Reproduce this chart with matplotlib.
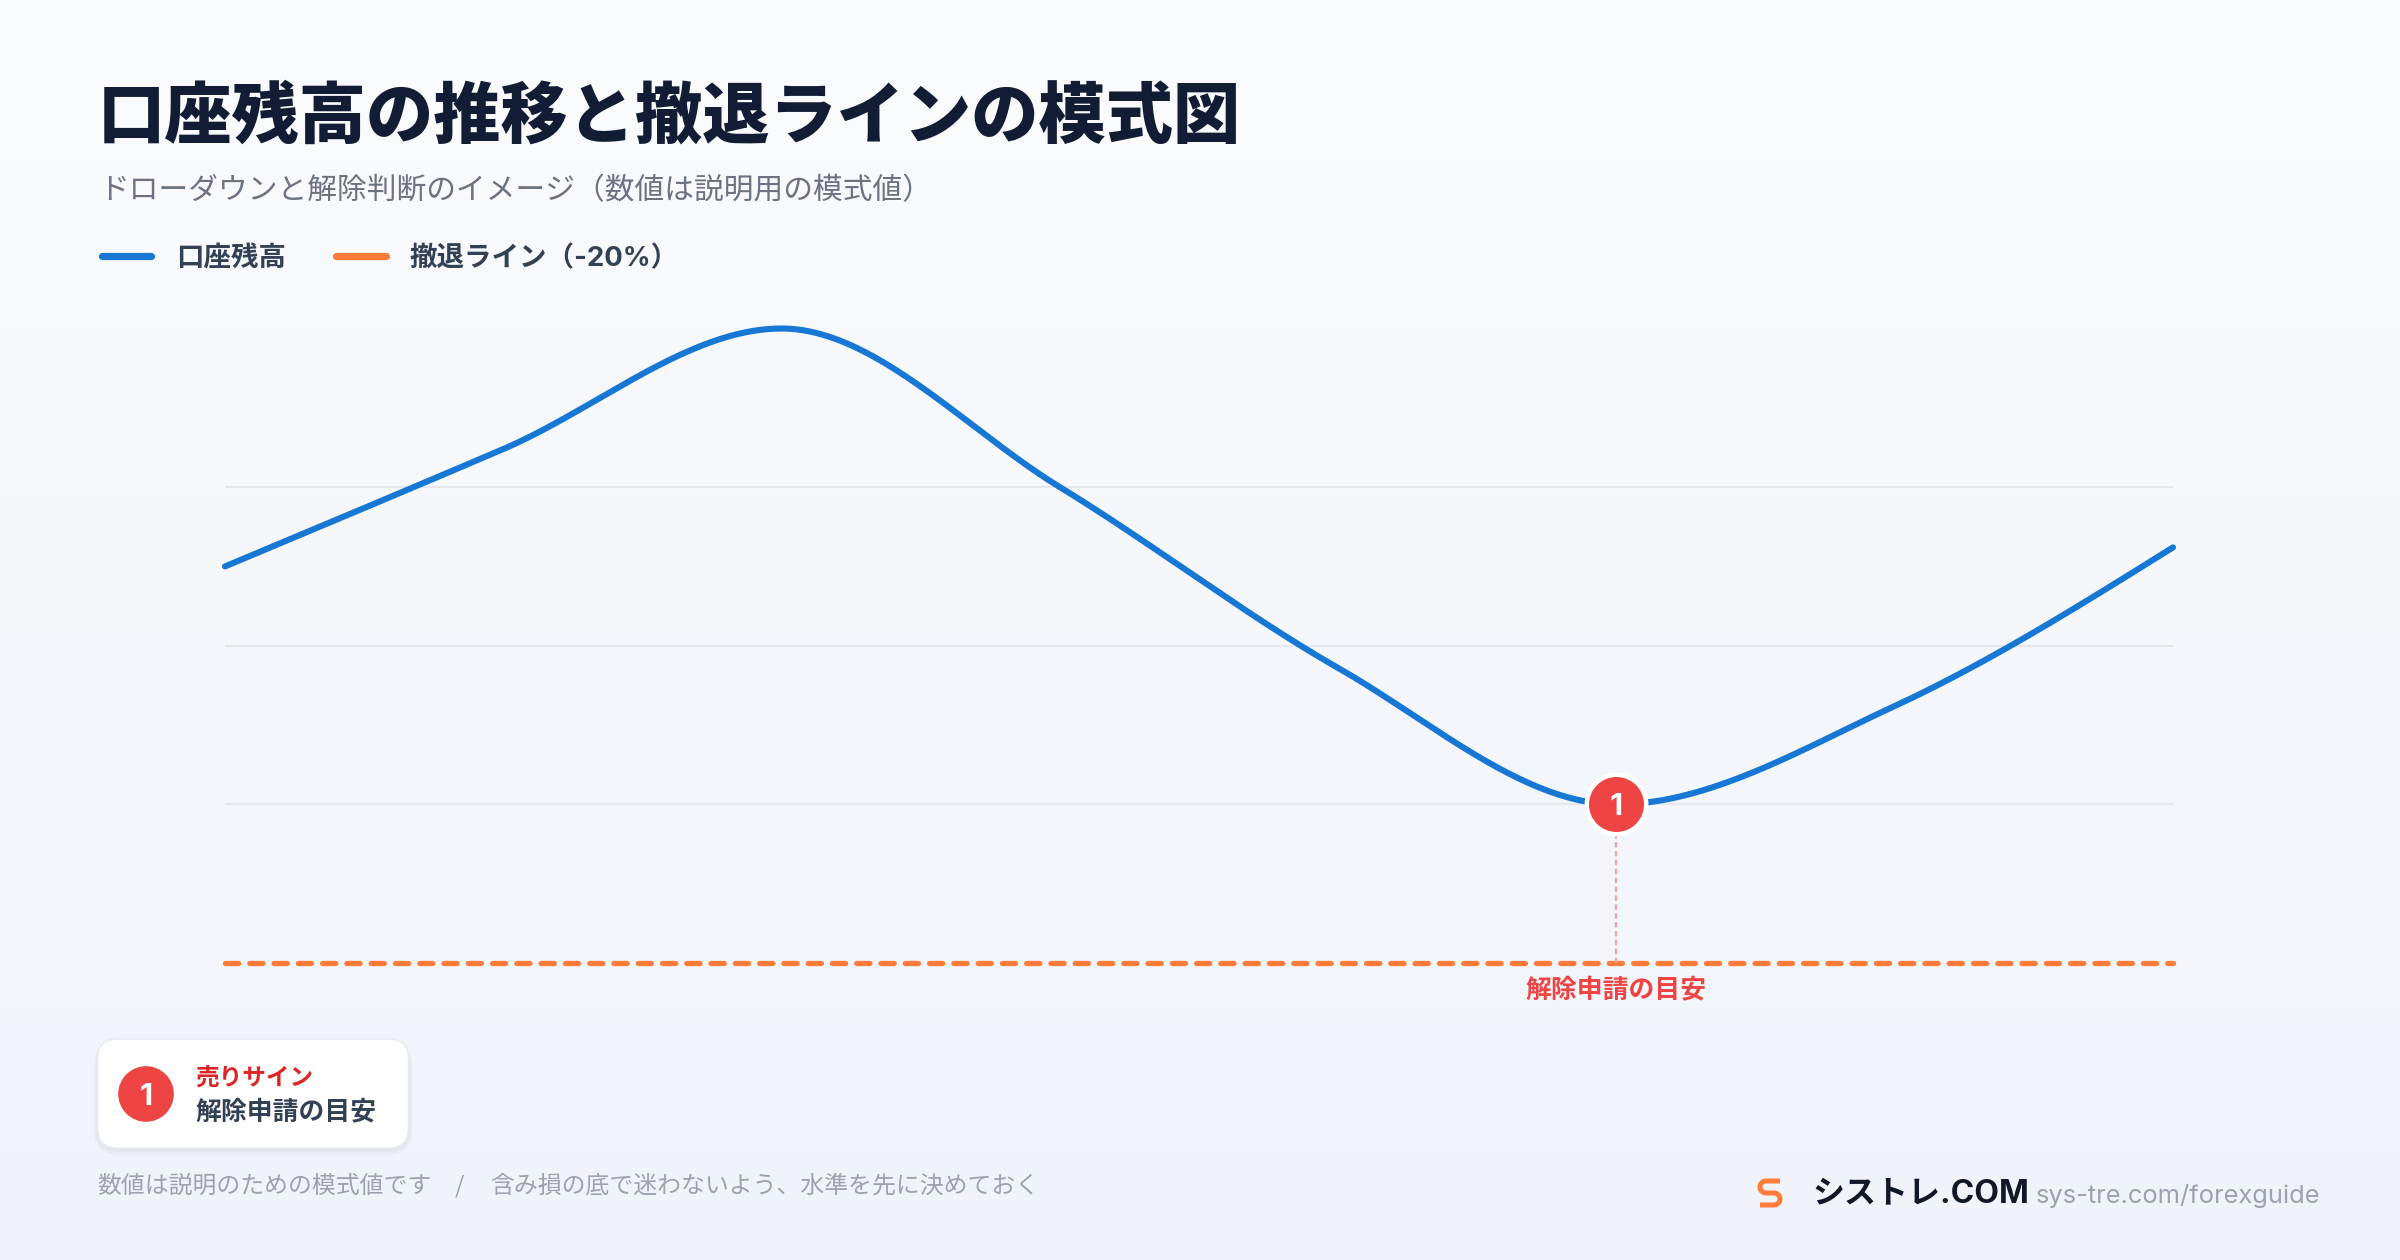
import numpy as np
import matplotlib
matplotlib.use("Agg")
import matplotlib.pyplot as plt
from matplotlib.patches import FancyBboxPatch, Circle

plt.rcParams['font.family'] = ['Noto Sans CJK JP', 'DejaVu Sans']
LATIN = ['Inter', 'Noto Sans CJK JP', 'DejaVu Sans']

# ---------------- data ----------------
steps = [0, 1, 2, 3, 4, 5, 6, 7]
balance = [92.5, 96.2, 100.0, 95.0, 89.3, 85.0, 88.1, 93.1]
stop_level = 80.0
grid_levels = [85, 90, 95]
signal_index = 5

title = "口座残高の推移と撤退ラインの模式図"
subtitle = "ドローダウンと解除判断のイメージ（数値は説明用の模式値）"
legend_labels = ["口座残高", "撤退ライン（-20%）"]
signal_label = "解除申請の目安"
card_title = "売りサイン"
card_text = "解除申請の目安"
foot_left = "数値は説明のための模式値です"
foot_right = "含み損の底で迷わないよう、水準を先に決めておく"
brand = "シストレ.COM"
brand_url = "sys-tre.com/forexguide"

BLUE = "#1677d4"
ORANGE = "#ff7b3a"
RED = "#ef4444"
DARK = "#121d35"
TEXT = "#334155"


def monotone_curve(x, y, n=80):
    x = np.asarray(x, float)
    y = np.asarray(y, float)
    h = np.diff(x)
    s = np.diff(y) / h
    t = np.zeros_like(y)
    for i in range(1, len(y) - 1):
        p = (s[i - 1] * h[i] + s[i] * h[i - 1]) / (h[i - 1] + h[i])
        t[i] = (np.sign(s[i - 1]) + np.sign(s[i])) * min(abs(s[i - 1]), abs(s[i]), 0.5 * abs(p))
    t[0] = (3 * s[0] - t[1]) / 2
    t[-1] = (3 * s[-1] - t[-2]) / 2
    xs, ys = [], []
    for i in range(len(h)):
        u = np.linspace(0, 1, n)
        h00 = 2 * u**3 - 3 * u**2 + 1
        h10 = u**3 - 2 * u**2 + u
        h01 = -2 * u**3 + 3 * u**2
        h11 = u**3 - u**2
        xs.append(x[i] + u * h[i])
        ys.append(h00 * y[i] + h10 * h[i] * t[i] + h01 * y[i + 1] + h11 * h[i] * t[i + 1])
    return np.concatenate(xs), np.concatenate(ys)


W, H = 2400, 1260
fig = plt.figure(figsize=(12, 6.3), dpi=200)

# background (pixel coordinates)
bg = fig.add_axes([0, 0, 1, 1], zorder=0)
grad = np.linspace(0, 1, 256)[:, None, None]
top = np.array([0.980, 0.984, 0.993])
bot = np.array([0.942, 0.955, 0.980])
img = top + (bot - top) * grad
bg.imshow(img, extent=[0, W, H, 0], aspect='auto', interpolation='bicubic', zorder=0)
bg.set_xlim(0, W)
bg.set_ylim(H, 0)
bg.axis('off')

# title / subtitle
bg.text(98, 118, title, fontsize=24.2, fontweight='heavy', color=DARK, ha='left', va='center')
bg.text(99, 191, subtitle, fontsize=10.7, color="#6b7280", ha='left', va='center')

# legend
bg.plot([102, 151], [256, 256], color=BLUE, lw=2.6, solid_capstyle='round')
bg.text(176, 259, legend_labels[0], fontsize=9.9, fontweight='bold', color=TEXT, ha='left', va='center')
bg.plot([336, 386], [256, 256], color=ORANGE, lw=2.6, solid_capstyle='round')
bg.text(409, 259, legend_labels[1], fontsize=9.9, fontweight='bold', color=TEXT, ha='left', va='center',
        family=LATIN)

# card
for k, a in enumerate([0.025, 0.025, 0.02]):
    d = 2 + 3 * k
    bg.add_patch(FancyBboxPatch((97.5 - d / 2, 1039 + 3), 311 + d, 109 + d / 2,
                                boxstyle="round,pad=0,rounding_size=%d" % (20 + d / 2),
                                fc="#1e293b", ec='none', alpha=a, zorder=1))
bg.add_patch(FancyBboxPatch((97.5, 1039), 311, 109, boxstyle="round,pad=0,rounding_size=20",
                            fc='white', ec='#e8ebf0', lw=0.6, zorder=2))
bg.add_patch(Circle((146, 1094), 27.8, fc=RED, ec='none', zorder=3))
bg.text(146, 1094, "1", fontsize=11, fontweight='bold', color='white',
        ha='center', va='center_baseline', zorder=4, family=LATIN)
bg.text(195, 1078, card_title, fontsize=8.5, fontweight='bold', color="#dc2626", ha='left', va='center', zorder=4)
bg.text(195, 1112, card_text, fontsize=9.3, fontweight='bold', color=TEXT, ha='left', va='center', zorder=4)

# footnote
FOOT = "#9ca3af"
bg.text(97, 1186, foot_left, fontsize=8.6, color=FOOT, ha='left', va='center')
bg.text(459, 1186, "/", fontsize=8.6, color=FOOT, ha='center', va='center')
bg.text(490, 1186, foot_right, fontsize=8.6, color=FOOT, ha='left', va='center')

# brand logo (rounded S)
def arc(cx, cy, r, a0, a1, n=12):
    a = np.radians(np.linspace(a0, a1, n))
    return list(cx + r * np.cos(a)), list(cy + r * np.sin(a))

r = 6
x0, x1 = 1760, 1780
y0, ym, y1 = 1181, 1193, 1205
px, py = [x1], [y0]
ax_, ay_ = arc(x0 + r, y0 + r, r, 270, 180); px += ax_; py += ay_
ax_, ay_ = arc(x0 + r, ym - r, r, 180, 90); px += ax_; py += ay_
ax_, ay_ = arc(x1 - r, ym + r, r, 270, 360); px += ax_; py += ay_
ax_, ay_ = arc(x1 - r, y1 - r, r, 0, 90); px += ax_; py += ay_
px.append(x0); py.append(y1)
bg.plot(px, py, color="#ff7b3a", lw=1.8, solid_capstyle='butt', solid_joinstyle='round')

bg.text(1812, 1194, brand, fontsize=11.5, fontweight='bold', color="#111827", ha='left', va='center',
        family=LATIN)
bg.text(2036, 1196, brand_url, fontsize=9.2, color=FOOT, ha='left', va='center', family=LATIN)

# ---------------- chart ----------------
ax = fig.add_axes([225 / W, 1 - 963 / H, (2173 - 225) / W, (963 - 328.5) / H], zorder=2)
ax.set_xlim(steps[0], steps[-1])
ax.set_ylim(stop_level, max(balance))
ax.axis('off')

for g in grid_levels:
    ax.axhline(g, color="#e5e7eb", lw=0.75, zorder=1)

stop = ax.axhline(stop_level, color=ORANGE, lw=1.9, zorder=2, clip_on=False)
stop.set_dashes((2.5, 2.1))
stop.set_dash_capstyle('round')

xs, ys = monotone_curve(steps, balance)
ax.plot(xs, ys, color=BLUE, lw=2.2, solid_capstyle='round', solid_joinstyle='round',
        clip_on=False, zorder=3)

sx, sy = steps[signal_index], balance[signal_index]
ax.plot([sx, sx], [stop_level, sy], color="#f4a0a8", lw=0.8, dashes=(2.4, 1.6), zorder=2, clip_on=False)
ax.plot([sx], [sy], 'o', ms=21.4, mfc=RED, mec='white', mew=1.6, zorder=5, clip_on=False)
ax.text(sx, sy, "1", fontsize=11, fontweight='bold', color='white', ha='center',
        va='center_baseline', zorder=6, family=LATIN)
ax.annotate(signal_label, xy=(sx, stop_level), xytext=(0, -9.5), textcoords='offset points',
            ha='center', va='center', fontsize=9.3, fontweight='bold', color=RED, zorder=6,
            annotation_clip=False)

fig.savefig("out.png", dpi=200)
